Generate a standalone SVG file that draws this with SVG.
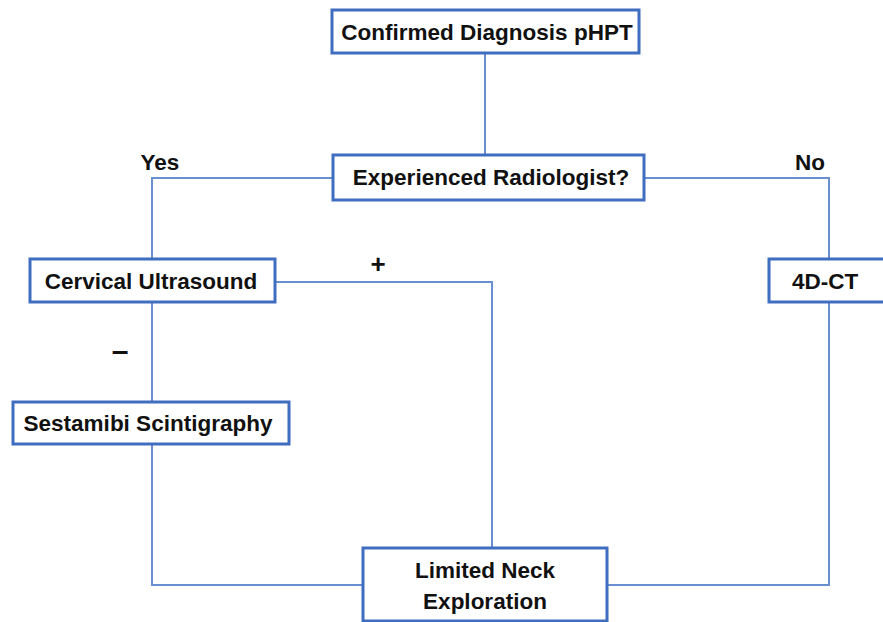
<svg xmlns="http://www.w3.org/2000/svg" width="883" height="622" viewBox="0 0 883 622">
<style>
.box{fill:#fff;stroke:#3f6dc0;stroke-width:3}
.t{font-family:"Liberation Sans",Arial,sans-serif;font-weight:bold;font-size:22.5px;fill:#111;text-anchor:middle;dominant-baseline:central}
.c{fill:none;stroke:#6a8fd0;stroke-width:2}
</style>
<rect width="883" height="622" fill="#fff"/>
<g id="connectors">
<path class="c" d="M485 53V155"/>
<path class="c" d="M333 178H152V260"/>
<path class="c" d="M644 178H829V260"/>
<path class="c" d="M275 282H492V548"/>
<path class="c" d="M152 302V403"/>
<path class="c" d="M152 444V585H363"/>
<path class="c" d="M829 302V585H607"/>
</g>
<g id="labels">
<text class="t" x="160" y="162">Yes</text>
<text class="t" x="810" y="162">No</text>
<text class="t" x="378" y="264" style="font-size:26px">+</text>
<text class="t" x="120" y="350" style="font-size:30px">–</text>
</g>
<g id="n1"><rect class="box" x="332" y="10" width="307" height="43"/><text class="t" x="487" y="32">Confirmed Diagnosis pHPT</text></g>
<g id="n2"><rect class="box" x="333" y="155" width="311" height="45"/><text class="t" x="491" y="177">Experienced Radiologist?</text></g>
<g id="n3"><rect class="box" x="30" y="259" width="245" height="43"/><text class="t" x="151" y="281">Cervical Ultrasound</text></g>
<g id="n4"><rect class="box" x="769" y="259" width="118" height="43"/><text class="t" x="825" y="281">4D-CT</text></g>
<g id="n5"><rect class="box" x="13" y="402" width="276" height="42"/><text class="t" x="148" y="423">Sestamibi Scintigraphy</text></g>
<g id="n6"><rect class="box" x="363" y="548" width="244" height="73"/><text class="t" x="485" y="570">Limited Neck</text><text class="t" x="485" y="601">Exploration</text></g>
</svg>
